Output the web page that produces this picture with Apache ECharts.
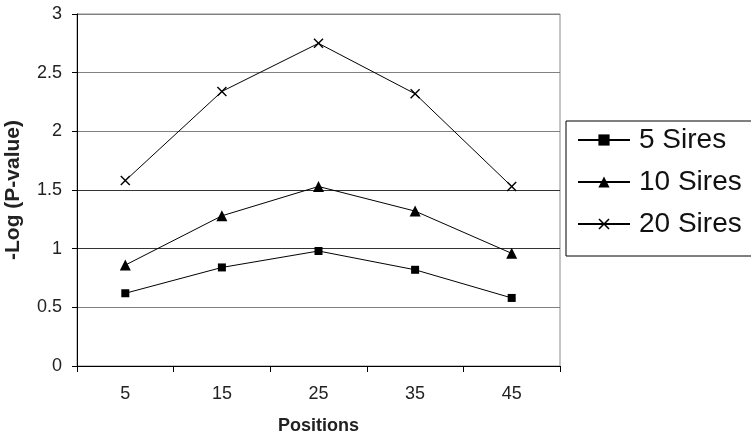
<!DOCTYPE html>
<html>
<head>
<meta charset="utf-8">
<script src="https://cdn.jsdelivr.net/npm/echarts@6/dist/echarts.min.js"></script>
<style>
html,body{margin:0;padding:0;background:#fff;}
#chart{width:751px;height:438px;}
</style>
</head>
<body>
<div id="chart"></div>
<script>
var positions = ['5', '15', '25', '35', '45'];
var sires5 = [0.62, 0.84, 0.98, 0.82, 0.58];
var sires10 = [0.86, 1.28, 1.53, 1.32, 0.96];
var sires20 = [1.58, 2.34, 2.75, 2.32, 1.53];
var yTicks = [0, 0.5, 1, 1.5, 2, 2.5, 3];

var crossPath = 'path://M0,1L1,0L5,4L9,0L10,1L6,5L10,9L9,10L5,6L1,10L0,9L4,5Z';
var FONT = 'Liberation Sans, Arial, sans-serif';

var chart = echarts.init(document.getElementById('chart'), null, {renderer: 'canvas'});

function mkSeries(name, data, symbol, size) {
  return {
    name: name,
    type: 'line',
    data: data,
    symbol: symbol,
    symbolSize: size,
    showAllSymbol: true,
    animation: false,
    lineStyle: {color: '#000', width: 1},
    itemStyle: {color: '#000'},
    emphasis: {disabled: true}
  };
}

chart.setOption({
  animation: false,
  backgroundColor: '#fff',
  grid: {
    left: 77, right: 191, top: 14, bottom: 72,
    containLabel: false,
    outerBoundsMode: 'none',
    show: true, borderColor: '#8a8a8a', borderWidth: 1, backgroundColor: 'transparent'
  },
  legend: {
    orient: 'vertical',
    left: 566, top: 121,
    padding: [5, 30, 18, 11],
    borderColor: '#000', borderWidth: 1,
    itemWidth: 52, itemHeight: 14, itemGap: 14,
    textStyle: {fontFamily: FONT, fontSize: 28, color: '#111', lineHeight: 28, padding: [0, 0, 0, 4]},
    data: ['5 Sires', '10 Sires', '20 Sires']
  },
  xAxis: {
    type: 'category',
    data: positions,
    boundaryGap: true,
    name: 'Positions',
    nameLocation: 'middle',
    nameGap: 51,
    nameTextStyle: {fontFamily: FONT, fontSize: 18, fontWeight: 'bold', color: '#222'},
    axisLine: {lineStyle: {color: '#000', width: 1}},
    axisTick: {show: true, length: 6, inside: false, lineStyle: {color: '#000'}},
    axisLabel: {fontFamily: FONT, fontSize: 18, color: '#222', margin: 19},
    splitLine: {show: false}
  },
  yAxis: {
    type: 'value',
    min: yTicks[0], max: yTicks[yTicks.length - 1], interval: 0.5,
    name: '-Log (P-value)',
    nameLocation: 'middle',
    nameRotate: 90,
    nameGap: 53,
    nameTextStyle: {fontFamily: FONT, fontSize: 21, fontWeight: 'bold', color: '#222'},
    axisLine: {show: true, lineStyle: {color: '#000', width: 1}},
    axisTick: {show: true, length: 5, inside: false, lineStyle: {color: '#000'}},
    axisLabel: {fontFamily: FONT, fontSize: 18, color: '#222', margin: 15},
    splitLine: {show: true, lineStyle: {color: ['#808080', '#808080', '#333', '#333', '#808080', '#808080', '#808080'], width: 1}}
  },
  series: [
    mkSeries('5 Sires', sires5, 'rect', 8),
    mkSeries('10 Sires', sires10, 'triangle', 11),
    mkSeries('20 Sires', sires20, crossPath, 10)
  ]
});
</script>
</body>
</html>
